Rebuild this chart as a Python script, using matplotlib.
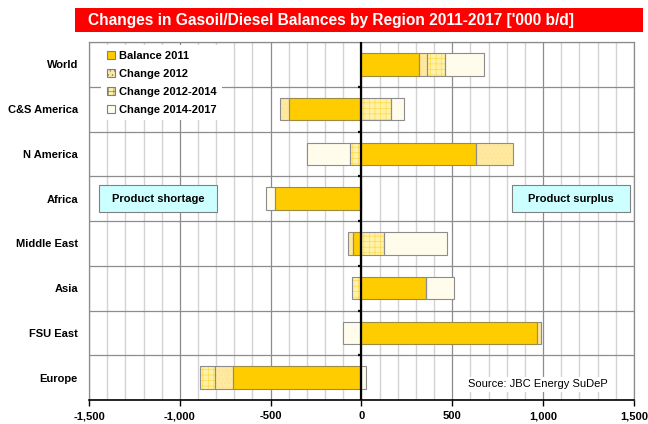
import matplotlib
matplotlib.use("Agg")
import matplotlib.pyplot as plt
from matplotlib.patches import Rectangle
from matplotlib.ticker import MultipleLocator, FuncFormatter
import numpy as np

plt.rcParams['font.family'] = ['Liberation Sans', 'DejaVu Sans']
plt.rcParams['hatch.linewidth'] = 0.5

regions = ['World', 'C&S America', 'N America', 'Africa', 'Middle East', 'Asia', 'FSU East', 'Europe']
balance_2011 = [316, -400, 630, -475, -45, 353, 967, -707]
change_2012 = [46, -46, 206, 0, -31, 0, 22, -97]
change_2012_2014 = [99, 160, -64, 0, 123, -53, 0, -83]
change_2014_2017 = [213, 73, -235, -53, 349, 154, -101, 24]

series = [
    ('Balance 2011', balance_2011, '#FFCC00', None, '#FFCC00'),
    ('Change 2012', change_2012, '#FFE9A0', '....', '#FFE38A'),
    ('Change 2012-2014', change_2012_2014, '#FFF2A8', '+++', '#FFD94A'),
    ('Change 2014-2017', change_2014_2017, '#FFFCEB', None, '#FFFCEB'),
]

W, H = 648, 424
fig = plt.figure(figsize=(W / 100, H / 100), dpi=100)
fig.patch.set_facecolor('white')

# title banner
fig.patches.append(Rectangle((75 / W, 1 - 32 / H), (643 - 75) / W, 24 / H,
                             transform=fig.transFigure, facecolor='#FF0000',
                             edgecolor='none', zorder=0))
fig.text(331 / W, 1 - 20 / H, "Changes in Gasoil/Diesel Balances by Region 2011-2017 ['000 b/d]",
         color='white', fontsize=11.2, fontweight='bold', ha='center', va='center')

ax = fig.add_axes([89 / W, 1 - 400 / H, (634 - 89) / W, (400 - 42) / H])
ax.set_xlim(-1500, 1500)
ax.set_ylim(len(regions) - 0.5, -0.5)

y = np.arange(len(regions))
pos_base = np.zeros(len(regions))
neg_base = np.zeros(len(regions))
bar_h = 0.5
handles = []
for name, vals, fc, hatch, hc in series:
    vals = np.array(vals, dtype=float)
    left = np.where(vals >= 0, pos_base, neg_base)
    ax.barh(y, vals, left=left, height=bar_h, color=fc, hatch=hatch,
            edgecolor=hc, linewidth=0, zorder=3)
    ax.barh(y, vals, left=left, height=bar_h, fill=False,
            edgecolor='#8C8C8C' if name != 'Balance 2011' else '#A08A40',
            linewidth=0.8, zorder=4)
    h = Rectangle((0, 0), 1, 1, facecolor=fc, hatch=hatch, edgecolor='#7F7F7F', linewidth=0.8)
    handles.append(h)
    pos_base = pos_base + np.where(vals >= 0, vals, 0)
    neg_base = neg_base + np.where(vals < 0, vals, 0)

# grid
ax.xaxis.set_major_locator(MultipleLocator(500))
ax.xaxis.set_minor_locator(MultipleLocator(100))
ax.grid(axis='x', which='minor', color='#D3D3D3', linewidth=1.0, zorder=1)
ax.grid(axis='x', which='major', color='#8C8C8C', linewidth=0.9, zorder=1)
ax.set_yticks(y)
ax.set_yticklabels(regions, fontsize=8, fontweight='bold')
ax.set_yticks(np.arange(len(regions) + 1) - 0.5, minor=True)
ax.grid(axis='y', which='minor', color='#8C8C8C', linewidth=0.9, zorder=1)
ax.grid(axis='y', which='major', visible=False)
ax.tick_params(axis='y', which='both', length=0, pad=8)
ax.tick_params(axis='x', which='major', length=4, width=1, color='black', labelsize=8, pad=4)
ax.tick_params(axis='x', which='minor', length=0)
ax.xaxis.set_major_formatter(FuncFormatter(lambda v, p: f"{int(v):,}"))
for lab in ax.get_xticklabels():
    lab.set_fontweight('bold')

for s in ['left', 'right', 'top']:
    ax.spines[s].set_color('#8C8C8C')
    ax.spines[s].set_linewidth(0.9)
ax.spines['bottom'].set_color('black')
ax.spines['bottom'].set_linewidth(1.2)

ax.axvline(0, color='black', linewidth=1.6, zorder=5)
ax.hlines(np.arange(1, len(regions)) - 0.5, -18, 0, color='black', linewidth=1.6, zorder=5)

# legend
leg = ax.legend(handles, [s[0] for s in series], loc='upper left', bbox_to_anchor=(0.016, 1.0),
                frameon=True, fancybox=False, framealpha=1, edgecolor='white',
                prop={'size': 8, 'weight': 'bold'}, handlelength=0.8, handleheight=0.8,
                handletextpad=0.3, labelspacing=0.7, borderpad=0.5, borderaxespad=0.3)
leg.set_zorder(6)
leg.get_frame().set_linewidth(0)

# annotation boxes
for xc, txt in [(-1118, 'Product shortage'), (1151, 'Product surplus')]:
    ax.add_patch(Rectangle((xc - 325, 3 - 0.31), 650, 0.62, facecolor='#CCFFFF',
                           edgecolor='#808080', linewidth=0.8, zorder=6))
    ax.text(xc, 3, txt, ha='center', va='center', fontsize=8, fontweight='bold', zorder=7)

ax.text(970, 7.15, 'Source: JBC Energy SuDeP', ha='center', va='center', fontsize=8, zorder=7,
        bbox=dict(boxstyle='square,pad=0.2', facecolor='white', edgecolor='none'))

fig.savefig('out.png', dpi=100)
